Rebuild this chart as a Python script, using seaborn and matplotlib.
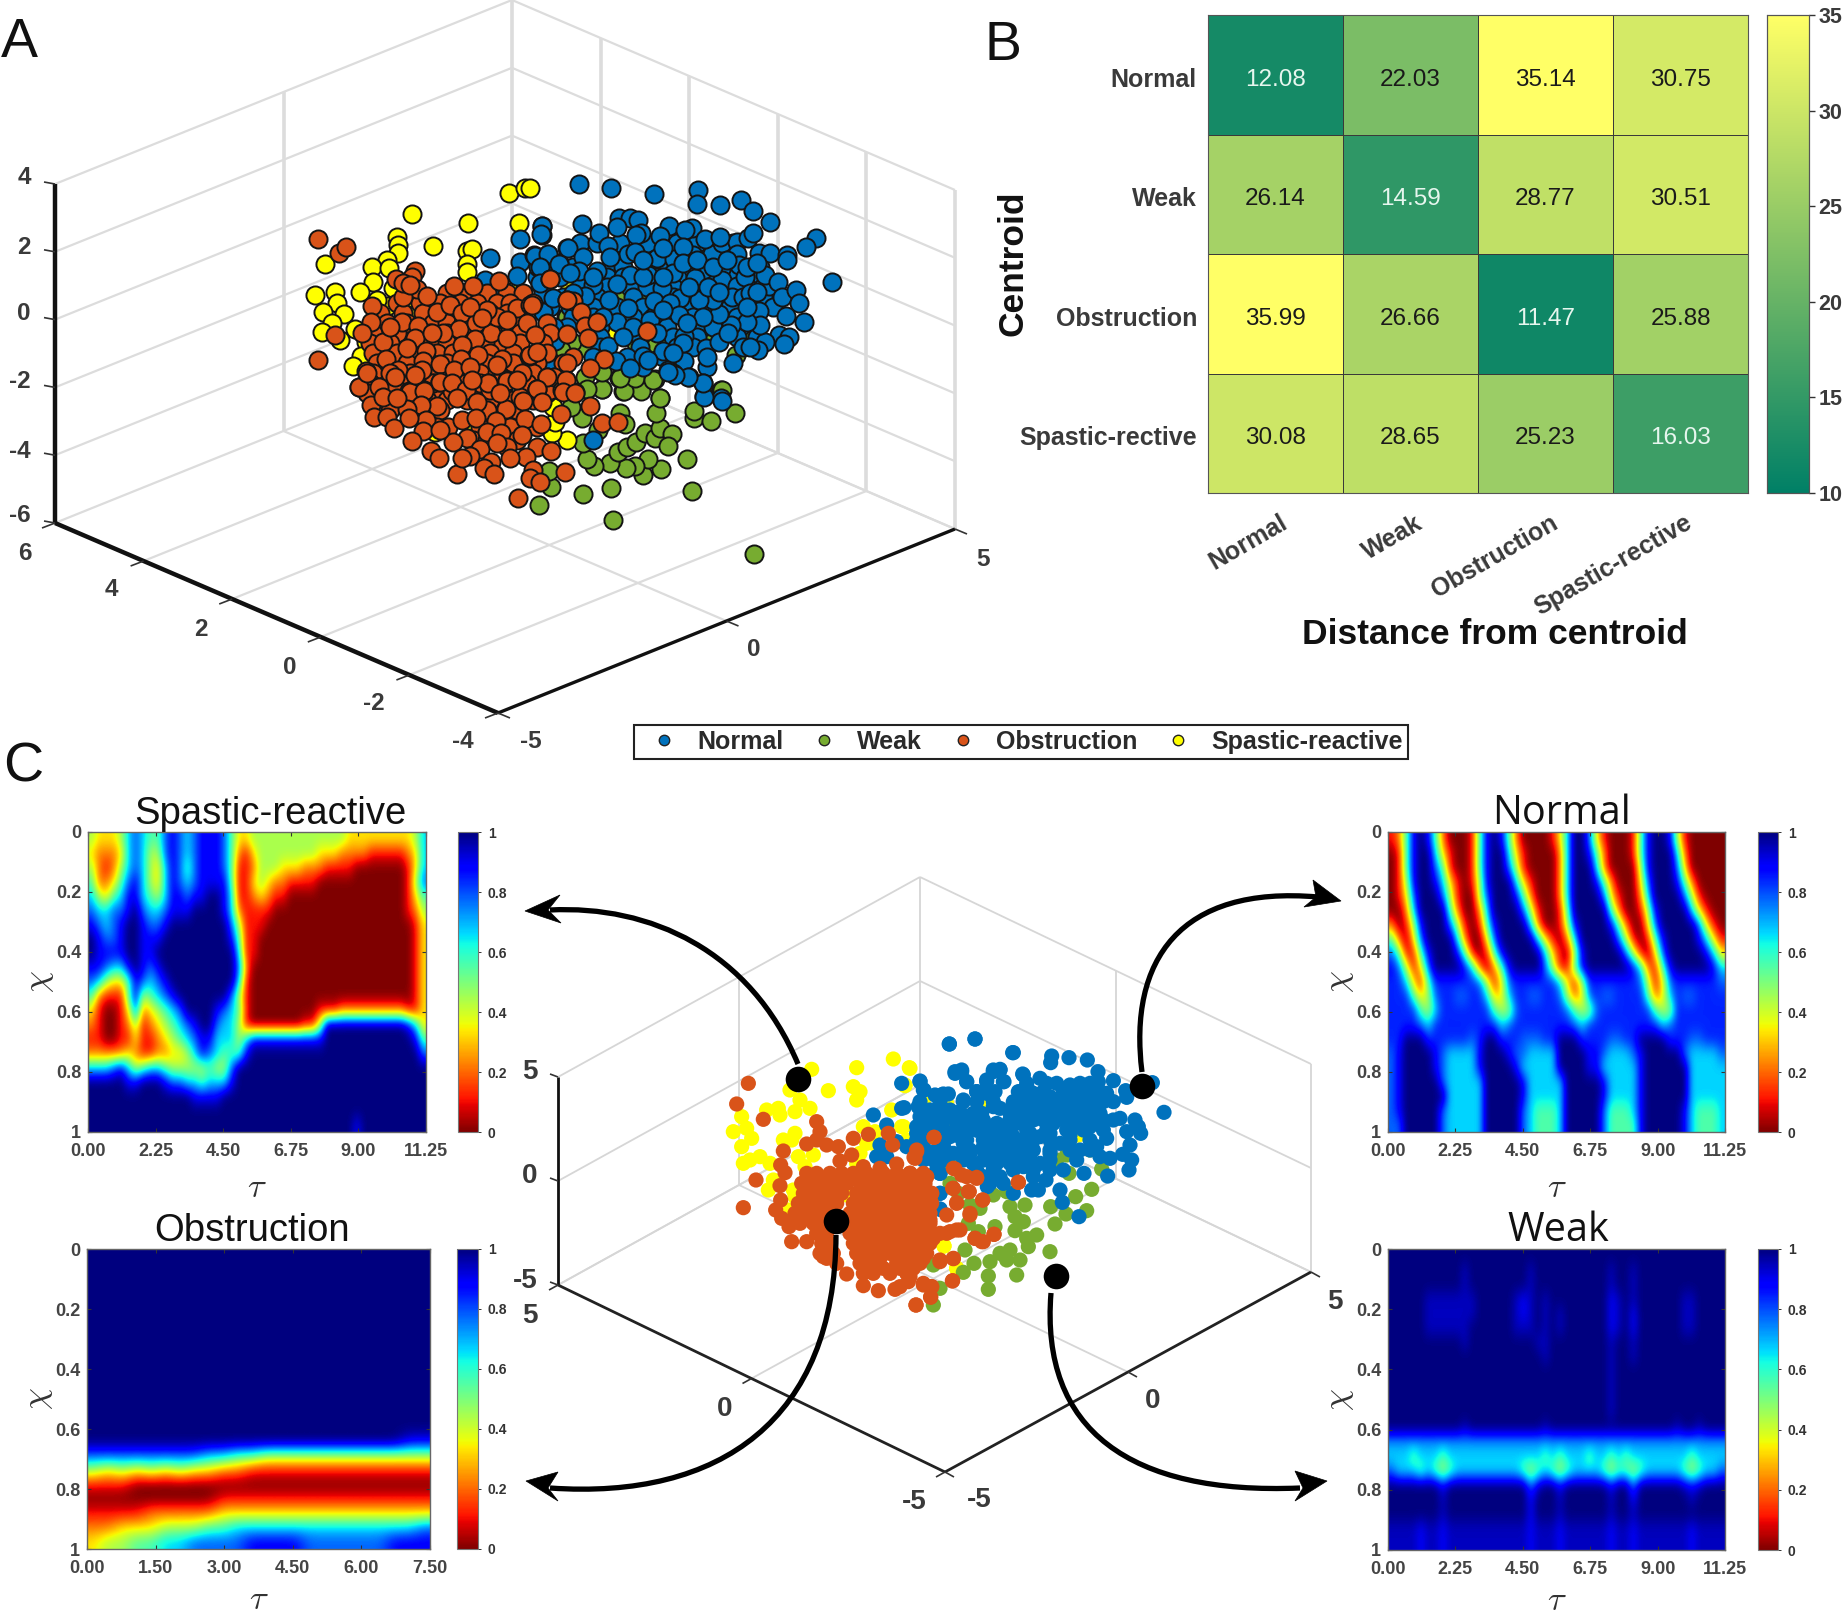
import numpy as np
import matplotlib
matplotlib.use("Agg")
import matplotlib.pyplot as plt
import matplotlib.transforms as mtrans
from matplotlib.lines import Line2D
from matplotlib.path import Path
from matplotlib.patches import PathPatch, Polygon
import seaborn as sns

# ---------- panel B ----------
CLASSES = ["Normal", "Weak", "Obstruction", "Spastic-rective"]
DIST = [[12.08, 22.03, 35.14, 30.75],
        [26.14, 14.59, 28.77, 30.51],
        [35.99, 26.66, 11.47, 25.88],
        [30.08, 28.65, 25.23, 16.03]]
LEGEND = ["Normal", "Weak", "Obstruction", "Spastic-reactive"]
BLUE, GREEN, ORANGE, YELLOW = "#0072BD", "#77AC30", "#D95319", "#FFFF00"

# ---------- panel A projected points, as read on zoomed crops ----------
A1_YELLOW = [(656,98),(706,84),(366,162),(535,188),(688,188),(321,232),(325,255),(325,280),(428,258),(530,272),(547,266),(530,312),(530,335),(104,313),(290,300),(245,320),(297,325),(250,367),(210,397),(308,385),(76,405),(135,395),(140,430),(100,457),(162,461),(127,490),(97,516),(290,437),(367,434),(520,420),(195,508),(228,547),(213,587),(188,617),(455,570),(150,540),(280,500),(470,480),(350,465),(260,420),(660,395),(560,400)]
A1_ORANGE_FILL = {400:[470,520,590,650,700],430:[320,390,450,510,560,620,660,730],460:[270,340,400,480,530,600,650,700],
                  490:[290,350,430,470,520,580,630,680,770],520:[250,320,420,470,550,610,690,780],
                  550:[240,300,420,470,540,590,640,690,760],580:[250,320,380,440,490,530,600,670,770],
                  610:[260,350,420,470,540,590,670,740],640:[250,360,430,530,570,620,730],670:[240,340,430,510,560,620,700],
                  700:[260,320,380,440,500,560,640,710,770]}
A1_ORANGE = [(85,236),(148,280),(168,261),(83,600),(375,333),(318,356),(367,350),(493,378),(548,378),(627,362),(780,356),(380,388),(412,408),(338,412),(245,438),(441,457),(481,434),(517,460),(681,444),(720,434),(335,487),(385,497),(243,487),(217,520),(136,525),(278,546),(375,533),(350,565),(407,573),(507,507),(558,489),(602,519),(650,535),(735,525),(556,536),(515,555),(565,585),(637,596),(718,587),(288,597),(400,604),(323,630),(228,634),(450,611),(513,597),(493,630),(207,681),(270,680),(316,680),(358,693),(403,691),(450,665),(485,693),(528,690),(593,670),(650,660),(742,687),(795,652),(825,660),(695,640),(770,650),(620,615),(540,620),(395,630),(340,370),(360,375),(300,500),(620,470),(590,450),(710,490),(460,520),(425,520),(650,480),(540,440),(575,475),(230,700),(300,640),(600,690),(690,710),(780,690),(820,610),(830,420)]
A1_BLUE = [(600,295),(690,238),(755,197),(755,225),(690,305),(733,285),(775,282),(745,320),(808,310),(830,265),(682,348),(750,372),(760,400),(585,360),(625,405),(570,420),(758,456),(790,500),(795,543),(782,605)]
A1_GREEN = [(828,470),(820,570)]
A2_BLUE_FILL = {250:[150,200,270,350,440,500,610],320:[60,130,240,280,390,470,540,610,690],
                350:[20,90,230,280,380,440,530,600,680],380:[40,150,230,300,350,430,510,590,650,700],
                410:[40,130,200,310,430,500,590,700],440:[60,120,190,260,340,480,530,600,660,730],
                470:[130,190,310,370,490,620],500:[110,210,360,410,520,550,630],530:[60,210,330,430,500,620,680],
                560:[210,330,440,490,640],590:[190,400],620:[340,530]}
A2_BLUE = [(146,71),(244,84),(371,102),(504,90),(500,132),(571,135),(633,121),(668,154),(719,185),(859,234),(829,262),(905,365),(36,197),(33,222),(157,193),(268,175),(300,175),(325,180),(262,200),(207,219),(333,219),(318,225),(418,197),(486,204),(465,210),(389,229),(235,257),(113,265),(15,287),(55,283),(88,312),(160,290),(293,283),(315,275),(380,293),(431,298),(490,285),(547,282),(575,250),(620,245),(655,235),(670,220),(525,238),(570,230),(460,260),(400,265),(688,280),(720,280),(770,285),(772,300),(620,283),(628,315),(572,327),(520,330),(495,355),(575,360),(620,377),(645,352),(718,377),(705,345),(745,365),(755,410),(798,390),(808,430),(688,452),(768,469),(822,485),(748,525),(778,532),(763,551),(705,545),(685,571),(690,495),(650,485),(604,495),(567,461),(605,410),(550,420),(508,420),(451,414),(397,383),(353,345),(299,345),(200,334),(147,333),(262,372),(190,375),(165,408),(238,420),(295,445),(372,422),(420,430),(447,466),(478,380),(535,380),(568,395),(640,410),(660,400),(682,395),(262,487),(38,457),(72,500),(235,558),(290,590),(338,588),(400,572),(462,527),(528,565),(530,590),(568,545),(595,520),(610,610),(463,602),(415,630),(477,652),(518,670),(522,708),(573,715),(430,640),(60,605),(258,602),(300,625),(355,600),(340,350),(340,300),(430,340),(460,310),(400,350),(240,290),(30,320),(190,350),(120,340),(100,410),(70,415),(220,470),(310,500),(360,480),(400,450),(280,530),(380,520),(500,300),(550,320),(590,300),(650,320),(680,310),(650,440),(520,470),(470,490),(460,550),(430,580),(660,560),(30,370),(130,400)]
A2_GREEN = [(620,437),(502,483),(540,527),(660,527),(617,584),(318,548),(110,472),(268,415),(345,422),(168,565),(125,545),(93,570),(216,633),(268,655),(317,654),(374,658),(278,692),(333,690),(389,714),(216,688),(170,688),(165,650),(573,690),(360,550),(410,550),(550,495),(190,440)]
A2_ORANGE = [(59,356),(130,422),(153,456),(164,497),(202,487),(110,521),(175,533),(350,512),(222,596),(128,590),(108,660),(15,525),(22,688),(72,650),(135,695),(95,690),(7,435),(110,420),(50,650),(0,585),(20,575),(110,610),(180,625)]
A2_YELLOW = [(120,382),(257,322),(240,517),(155,350),(0,83)]
A3_ORANGE_FILL = {40:[90,150,230,280,360,420,470,560,640],90:[170,260,320,380,450,520,580],
                  120:[150,230,300,440,530],170:[290,420,510,590],210:[400,440,530]}
A3_ORANGE = [(57,50),(118,52),(165,20),(210,65),(253,62),(300,35),(337,38),(378,60),(444,40),(500,32),(592,57),(678,30),(670,65),(705,68),(548,92),(607,97),(410,97),(497,117),(350,85),(290,108),(243,105),(200,118),(93,104),(103,140),(140,140),(163,175),(257,150),(207,145),(250,183),(215,213),(325,170),(365,150),(407,145),(468,152),(555,147),(603,162),(663,133),(751,107),(787,159),(835,157),(440,185),(483,190),(380,203),(340,215),(545,195),(420,237),(500,230),(592,232),(634,242),(557,262),(511,265),(272,243),(298,263),(350,313),(390,257),(365,265),(453,275),(433,295),(461,313),(580,300),(570,325),(601,337),(674,307),(534,383),(470,220),(300,180),(130,80),(170,85),(80,10),(480,70),(225,15),(395,30),(530,30)]
A3_GREEN = [(598,404),(632,350),(627,303),(728,372),(814,355),(1055,364),(820,451),(1243,551),(1040,267),(964,296),(910,314),(923,268),(885,288),(859,295),(809,279),(762,288),(742,266),(834,247),(860,230),(889,217),(914,190),(945,205),(960,175),(997,192),(985,228),(947,128),(960,85),(903,62),(852,62),(840,130),(1062,145),(1062,122),(1112,152),(1184,130),(1145,60),(786,58),(885,25),(940,30),(840,25),(740,58),(730,218),(727,143),(692,110),(775,180),(855,163),(786,5)]
A3_YELLOW = [(682,210),(636,190),(645,155),(285,185),(640,110),(405,170)]
A3_BLUE = [(760,210),(1092,80),(1145,93),(1090,40),(1045,22),(1005,15),(985,5)]

# ---------- centre panel projected points ----------
C4_ORANGE = [(115,190),(80,252),(160,298),(320,305),(330,335),(430,355),(475,343),(290,372),(320,360),(350,375),(385,380),(220,393),(425,405),(390,423),(548,375),(535,340),(672,352),(620,390),(612,412),(212,435),(225,458),(138,480),(210,497),(212,540),(100,563),(197,570),(215,595),(237,620),(245,665),(290,665),(340,710),(410,762),(460,797),(505,812),(555,808),(595,785),(618,855),(640,790),(665,800),(662,832),(728,782),(730,715),(690,720),(670,655),(690,640),(720,635),(750,630),(795,655),(815,665),(852,643),(780,580),(740,548),(818,540),(730,505),(775,515),(735,447),(770,470),(800,472),(925,487),(460,440),(560,432),(510,445),(600,460),(650,470),(665,520),(660,580),(640,620)]
C4_ORANGE_CORE = {460:[290,320,360,395,430,470,520,560,600,640],475:[300,340,380,450,500,540,580,620],490:[275,305,340,375,410,450,490,530,570,610,645],
                  505:[290,330,365,470,510,550,590,630],520:[280,320,360,395,440,480,520,560,600,640,665],535:[300,340,380,450,490,530,570,610,650],
                  550:[265,300,340,380,430,470,510,550,590,630,665],565:[280,320,360,440,480,520,560,600,640],
                  580:[255,290,330,420,460,500,540,580,620,650],595:[270,310,440,480,520,560,600,640],
                  610:[240,270,310,345,430,470,510,550,590,630,660],625:[330,440,480,520,560,600,640],
                  640:[320,350,420,460,500,540,580,620,655],655:[340,440,480,520,560,600,640],
                  670:[335,360,430,470,510,550,590,630,660],685:[345,450,490,530,570,610,640],
                  700:[330,370,440,480,540,580,620,650],715:[350,460,510,560,600,640],730:[380,450,490,560,600,630],745:[470,520,570,610],760:[460,490,540,590]}
C4_YELLOW = [(305,148),(440,143),(550,117),(598,143),(355,212),(585,197),(430,200),(450,215),(440,240),(240,210),(270,240),(300,265),(170,270),(205,265),(210,285),(255,275),(95,290),(70,335),(110,325),(125,355),(95,380),(255,340),(220,360),(245,360),(100,430),(120,420),(150,410),(180,430),(265,410),(310,405),(450,400),(470,370),(460,320),(545,270),(575,320),(495,335),(190,480),(175,510),(250,510),(255,530),(235,570),(410,525),(715,335),(820,250),(755,405),(705,245),(640,250),(702,678),(740,745),(490,370),(440,430),(285,440)]
C4_BLUE = [(718,72),(795,57),(908,98),(575,190),(630,185),(640,210),(735,155),(755,150),(770,185),(700,222),(675,225),(800,215),(850,150),(870,148),(830,185),(880,185),(940,165),(930,215),(575,265),(625,260),(490,285),(530,315),(635,285),(660,270),(720,270),(760,240),(830,220),(910,250),(955,240),(620,320),(660,310),(690,300),(740,310),(790,280),(850,260),(900,300),(950,300),(630,360),(700,370),(750,350),(800,330),(860,320),(910,350),(510,375),(560,365),(590,380),(500,410),(530,410),(650,410),(700,420),(760,390),(820,380),(870,390),(930,400),(690,460),(850,440),(900,430),(840,490),(690,520),(690,567),(880,490),(790,430),(940,440),(950,350),(670,330),(720,400),(620,340),(640,380)]
C9_BLUE_FILL = {190:[380,440,540,570],215:[390,430,490,560,600],245:[60,120,230,280,340,400,440,480,510,540,570,610],260:[420,460,500,550,590],275:[70,130,180,350,400,430,460,490,520,560,590],
                300:[80,130,190,250,330,380,430,470,500,530,560,590,610],330:[80,130,200,260,320,380,440,500,550,610],
                360:[50,130,200,250,300,400,450,510,570],390:[60,110,210,280,340,400,450,510,570],
                420:[70,190,250,320,390,450,530],450:[110,230,280,340,400,450]}
C9_BLUE = [(148,72),(225,57),(340,98),(455,108),(452,128),(507,113),(562,120),(594,155),(640,182),(677,212),(680,232),(757,188),(792,277),(60,183),(72,210),(165,160),(185,155),(200,185),(125,225),(145,222),(230,215),(280,155),(300,150),(260,180),(312,185),(285,215),(368,162),(355,215),(420,175),(470,190),(510,195),(595,185),(620,220),(640,245),(12,263),(55,260),(90,280),(190,245),(245,280),(300,265),(350,250),(400,220),(450,230),(530,225),(580,240),(430,270),(490,265),(540,270),(600,280),(660,295),(640,300),(705,300),(715,320),(722,340),(680,335),(690,375),(668,403),(695,420),(687,450),(623,468),(620,355),(630,415),(600,410),(552,460),(60,320),(110,340),(170,320),(230,330),(290,310),(350,310),(400,300),(460,310),(520,310),(570,320),(70,380),(130,380),(190,370),(250,390),(310,370),(370,370),(420,350),(480,370),(540,390),(590,380),(100,420),(220,430),(290,430),(350,420),(420,430),(490,450),(120,460),(250,470),(300,470),(400,470),(438,480),(395,510),(415,510),(262,500),(120,520),(480,510),(487,547),(537,590),(120,568),(340,520),(150,290),(210,300),(270,350),(330,340),(390,340),(450,340),(510,345),(150,350),(210,400),(270,410),(330,400),(390,400),(450,400),(160,400),(60,290),(380,260),(330,280)]
C9_GREEN = [(265,360),(335,358),(570,390),(605,447),(507,460),(470,420),(575,508),(527,530),(452,560),(498,582),(560,572),(465,612),(450,695),(375,555),(330,560),(345,590),(370,605),(345,632),(285,620),(235,635),(380,655),(410,645),(385,680),(330,690),(300,700),(360,720),(320,720),(270,725),(222,730),(195,690),(190,757),(265,768),(350,765),(265,808),(100,855),(120,805),(100,735),(145,425),(150,490),(210,555),(240,565),(205,610),(340,435),(392,445),(280,525),(320,515),(500,405),(175,520)]
C9_ORANGE = [(102,352),(50,395),(45,415),(355,487),(160,445),(185,465),(230,475),(158,505),(208,515),(248,540),(170,550),(140,585),(210,585),(170,630),(140,640),(225,655),(250,665),(282,643),(160,716),(120,725),(157,783),(70,795),(95,800),(92,830),(48,855),(30,460),(80,470),(90,530),(60,560),(90,600),(100,650),(30,500),(20,600),(15,700),(60,700),(30,770),(0,800)]
C9_YELLOW = [(30,145),(15,195),(65,245),(140,250),(250,252),(145,337),(185,405),(535,345),(132,678),(170,745),(10,320),(20,360)]

# ---------- recurrence maps: rows of chi 0..1, columns of tau; digit d = d/9; a, b, c = 0.945, 0.84, 0.72 ----------
NORMAL_ROWS = [
"1258985200 0158985200 0013699731 0001589984 100000",
"0158996310 0158996310 0002699852 0001589996 200000",
"0158997510 0158997410 0002699962 0000489997 300000",
"0148998631 0148999631 0002699985 2000379998 520000",
"0137999741 0047999852 0002699997 3100269999 741000",
"0026999952 0026999974 1001599999 5200148999 963100",
"2014899974 1015899996 2001489999 8520037999 997310",
"5203799996 2003799999 6310269999 9741015899 998631",
"7511589998 5101589999 9631048999 9974103799 999863",
"8741379999 8620258999 9741158999 9998621589 999986",
"bb6315bbbb bb74137bbb bbb6314bbb bbbb74137b bbbbb7",
"bbb5347bb7 7bb6336bb7 7bb7423 7b7 7bbbb5236b 77bbbb",
"bbbb546bbb bbbb5447bb bbbb7544 7b bbbbbb544b bbbbbb",
"bbbb76bbbb bbbbb67bbb bbbbb76bbb bbbbbbb67b bbbbbb",
"bb999bbbbb b7b99bbb77 7bb999bbbb 77bb9999bb b77bbb",
"7899998766 6689998776 6669999887 6667899999 766667",
"7899998766 6689999866 6669999886 6666899999 966666",
"7899999766 6669999986 6666999998 6666899999 966666",
"7899999966 6669999986 6666999998 6666899999 966666",
"7899999766 6669999976 5556999997 5556899999 865556",
"7799999766 6669999976 5556999997 5555899999 865556"]
SPASTIC_ROWS = [
"4333467655 7876788875 3344444444 4444433333 333346",
"3222367644 7876788875 2134444444 4333222211 111236",
"4212467643 6875788875 1124443332 2211110000 000136",
"5223578643 6876788885 1134322111 1000000000 000147",
"6435688654 6887889986 1123211000 0000000000 000135",
"7667789766 7888999986 2111100000 0000000000 000124",
"8767899877 8999999997 4111000000 0000000000 000013",
"9877899888 9999999998 5110000000 0000000000 000013",
"9888899889 9999999999 6110000000 0000000000 000013",
"8876689878 9999999999 7200000000 0000000000 000013",
"7643358767 8999999999 6100000000 0000000000 000013",
"5211158456 7899999997 4100000000 0000000000 000013",
"3100137234 5679999876 5100000000 0111222222 222113",
"2100124123 4567899766 4100000001 1499999999 999863",
"1100113112 3456788666 4688888888 8899999999 999985",
"2222232112 2334687655 5899999999 9999999999 999997",
"6667864566 5444445447 9999999999 9999999999 999999",
"9999988999 8776656668 9999999999 9999999999 999999",
"9999999999 9999888899 9999999999 9999999999 999999",
"9999999999 9999999999 9999999999 9999999999 999999",
"9999999999 9999999999 9999999999 9999998999 999999"]
WEAK_ROWS = [
"9999999999 9999999999 9999999999 9999999999 999999",
"9999999999 a99999999a 9999999999 a99a999999 999999",
"9999999999 a99999999a 9999999999 a99a999999 999999",
"99999aaaaa aa99999a8a 9a99999999 8a9a999999 aa9999",
"99999aaaaa aa99999a8a 9a9a999999 8a98999999 aa9999",
"99999aaaaa a999999aaa 9a9a999999 8a98999999 aa9999",
"9999999999 a999999999 aa99999999 a99a999999 999999",
"9999999999 9999999999 9a99999999 a99a999999 999999",
"9999999999 9999999999 9999999999 a999999999 999999",
"9999999999 9999999999 9999999999 a999999999 999999",
"9999999999 9999999999 9999999999 a999999999 999999",
"9999999999 9999999999 9999999999 a999999999 999999",
"9999999999 a999999999 9a99999999 999999999a 99a999",
"cccccccccc cccccccccc cccccccccc cccccccccc cccccc",
"6665666566 6666666666 6565666566 5656666666 656666",
"7666565456 6666666654 5654566665 4554566666 545667",
"9999999899 9999999997 a998999999 8997999999 a8a999",
"9999999a99 9999999998 999a999999 a998999999 9a9999",
"9999999a99 9999999998 999a999999 a99a999999 999999",
"aaaa8aa8aa aaaaaaaaa8 aaa8aaaaaa 8aa8aaaaaa a8aaaa",
"aaaa8aa8aa aaaaaaaaa8 aaa8aaaaaa 8aa8aaaaaa a8aaaa"]
OBSTR_ROWS = ["9"*24]*13 + [
"999999999999 999999999988",
"777777776655 444444444444",
"434343433221 111111111111",
"111000000000 000000000000",
"000000000111 111111111111",
"111122222333 333333333333",
"223334445566 666666666667",
"344556677778 888777777888"]
TAU_TICKS_LONG = [0, 2.25, 4.5, 6.75, 9, 11.25]
TAU_TICKS_SHORT = [0, 1.5, 3, 4.5, 6, 7.5]
CHI_TICKS = [0, .2, .4, .6, .8, 1]
CHI_LABELS = ["0", "0.2", "0.4", "0.6", "0.8", "1"]
CBAR_TICKS = [0, .2, .4, .6, .8, 1]
CBAR_LABELS = ["0", "0.2", "0.4", "0.6", "0.8", "1"]

W, H = 1844, 1613
sns.set_theme(style="white")
plt.rcParams["font.family"] = ["Liberation Sans", "DejaVu Sans"]
plt.rcParams["mathtext.fontset"] = "cm"
TXT = "#3a3a3a"

fig = plt.figure(figsize=(W/100, H/100), dpi=100, facecolor="white")
ov = fig.add_axes([0, 0, 1, 1], facecolor="none")
ov.set_axis_off()

def crop(pts, x0, y0):
    return [x0 + p[0]/3 for p in pts], [y0 + p[1]/3 for p in pts]

def rows(d):
    return [(x, y) for y, row in d.items() for x in row]

def merge(*groups):
    xs, ys = [], []
    for g in groups:
        xs += g[0]; ys += g[1]
    return xs, ys

def pts(xy, color, s, lw, ec, z):
    sns.scatterplot(x=xy[0], y=xy[1], ax=ov, color=color, s=s, linewidth=lw, edgecolor=ec, legend=False, zorder=z)

def seg(a, b, color="#dcdcdc", lw=1.5, z=1):
    ov.plot([a[0], b[0]], [a[1], b[1]], color=color, lw=lw, zorder=z, solid_capstyle="butt")

def lerp(a, b, t):
    return (a[0] + (b[0]-a[0])*t, a[1] + (b[1]-a[1])*t)

def up(p, h):
    return (p[0], p[1]-h)

# ---------- wire box A ----------
L, B, R, K = (55, 523), (498, 713), (955, 529), (512, 339)
HA = 339
for t in [0, .2, .4, .6, .8, 1]:
    seg(up(L, HA*t), up(K, HA*t), lw=1.6)
    seg(up(K, HA*t), up(R, HA*t), lw=1.6)
for t in [0, .5, 1]:
    p = lerp(L, K, t)
    seg(p, up(p, HA), lw=2.6)
for t in [.2, .4, .6, .8, 1]:
    p = lerp(K, R, t)
    seg(p, up(p, HA), lw=2.6)
for t in [.2, .4, .6, .8]:
    p = lerp(L, B, t)
    seg(p, (p[0]+R[0]-B[0], p[1]+R[1]-B[1]), lw=1.6)
p = lerp(L, K, .5)
seg(p, (p[0]+B[0]-L[0], p[1]+B[1]-L[1]), lw=1.6)
seg(R, K, lw=1.6)
seg(L, up(L, HA), "#111111", 3.2, 2)
seg(L, B, "#111111", 3.2, 2)
seg(B, R, "#111111", 2.4, 2)
for t in [0, .2, .4, .6, .8, 1]:
    p = up(L, HA*t)
    seg(p, (p[0]-11, p[1]-2), "#333333", 1.2, 2)
    p = lerp(L, B, t)
    seg(p, (p[0]-13, p[1]+5), "#333333", 1.2, 2)
for t in [0, .5, 1]:
    p = lerp(B, R, t)
    seg(p, (p[0]+12, p[1]+5), "#333333", 1.2, 2)

AX = [("4",24,178),("2",24,247),("0",24,313),("-2",20,382),("-4",20,451),("-6",20,516),
      ("6",25,553),("4",111,590),("2",201,629),("0",290,667),("-2",374,704),("-4",463,742),
      ("-5",531,741),("0",754,650),("5",983,559)]
for s, x, y in AX:
    ov.text(x, y, s, fontsize=17.5, fontweight="bold", color=TXT, ha="center", va="center")

a_green = merge(crop(A1_GREEN,290,160), crop(A2_GREEN,530,160), crop(A3_GREEN,340,370))
a_yellow = merge(crop(A1_YELLOW,290,160), crop(A2_YELLOW,530,160), crop(A3_YELLOW,340,370))
a_blue = merge(crop(rows(A2_BLUE_FILL),530,160), crop(A1_BLUE,290,160), crop(A2_BLUE,530,160), crop(A3_BLUE,340,370))
a_orange = merge(crop(rows(A1_ORANGE_FILL),290,160), crop(rows(A3_ORANGE_FILL),340,370), crop(A1_ORANGE,290,160), crop(A2_ORANGE,530,160), crop(A3_ORANGE,340,370))
for i, (xy, c) in enumerate([(a_green, GREEN), (a_yellow, YELLOW), (a_blue, BLUE), (a_orange, ORANGE)]):
    pts(xy, c, 170, 1.4, "#141414", 3+i)

# ---------- wire box centre ----------
cL, cB, cR, cK = (558, 1285), (945, 1472), (1311, 1272), (920, 1085)
HC = 208
GC = "#d6d6d6"
for t in [0, .5, 1]:
    seg(up(cL, HC*t), up(cK, HC*t), GC, 1.3)
    seg(up(cK, HC*t), up(cR, HC*t), GC, 1.3)
for p in [lerp(cL, cK, .5), cK, lerp(cK, cR, .5), cR]:
    seg(p, up(p, HC), GC, 1.3)
seg(lerp(cL, cK, .5), lerp(cB, cR, .5), GC, 1.3)
seg(lerp(cK, cR, .5), lerp(cL, cB, .5), GC, 1.3)
seg(cK, cL, GC, 1.3); seg(cK, cR, GC, 1.3)
seg(cL, up(cL, HC), "#111111", 2.0, 2)
seg(cL, cB, "#222222", 2.0, 2)
seg(cB, cR, "#222222", 2.0, 2)
for t in [0, .5, 1]:
    p = up(cL, HC*t)
    seg(p, (p[0]-8, p[1]-3), "#333333", 1.2, 2)
    p = lerp(cL, cB, t)
    seg(p, (p[0]-9, p[1]+5), "#333333", 1.2, 2)
    p = lerp(cB, cR, t)
    seg(p, (p[0]+9, p[1]+5), "#333333", 1.2, 2)
CX = [("5",530,1072),("0",530,1176),("-5",525,1281),("5",530,1316),("0",725,1409),("-5",914,1502),
      ("-5",979,1500),("0",1153,1401),("5",1335,1302)]
for s, x, y in CX:
    ov.text(x, y, s, fontsize=20, fontweight="bold", color=TXT, ha="center", va="center")

c_green = crop(C9_GREEN, 900, 1020)
c_yellow = merge(crop(C4_YELLOW,710,1020), crop(C9_YELLOW,900,1020))
c_blue = merge(crop(C4_BLUE,710,1020), crop(C9_BLUE,900,1020), crop(rows(C9_BLUE_FILL),900,1020))
c_orange = merge(crop(C4_ORANGE,710,1020), crop(rows(C4_ORANGE_CORE),710,1020), crop(C9_ORANGE,900,1020))
for i, (xy, c) in enumerate([(c_yellow, YELLOW), (c_green, GREEN), (c_blue, BLUE), (c_orange, ORANGE)]):
    pts(xy, c, 120, 0, "none", 3+i)

# ---------- arrows ----------
ARROWS = [((798,1064),(750,950),(650,905),(550,910),[(525,911),(560,895),(548,910),(561,923)]),
          ((1142,1072),(1128,960),(1180,885),(1318,897),[(1341,901),(1313,880),(1316,897),(1304,907)]),
          ((836,1235),(835,1420),(720,1500),(550,1488),[(526,1481),(558,1472),(548,1488),(558,1501)]),
          ((1051,1293),(1040,1430),(1130,1495),(1300,1488),[(1327,1481),(1295,1471),(1303,1488),(1295,1501)])]
for p0, p1, p2, p3, head in ARROWS:
    ov.add_patch(PathPatch(Path([p0, p1, p2, p3], [Path.MOVETO, Path.CURVE4, Path.CURVE4, Path.CURVE4]),
                           fc="none", ec="black", lw=3.8, zorder=9))
    ov.add_patch(Polygon(head, closed=True, fc="black", ec="black", lw=.5, zorder=9))
DOTS_X, DOTS_Y = [798, 1142, 836, 1056], [1079, 1086, 1221, 1276]
sns.scatterplot(x=DOTS_X, y=DOTS_Y, ax=ov, color="black", s=340, linewidth=0, legend=False, zorder=10)

# ---------- letters ----------
for s, x, y in [("A", 1, 57), ("B", 984, 60), ("C", 3, 781)]:
    ov.text(x, y, s, fontsize=40, color="#111111", ha="left", va="baseline")

# ---------- legend ----------
hs = [Line2D([], [], ls="", marker="o", ms=7.5, mfc=c, mec="#222222", mew=1) for c in (BLUE, GREEN, ORANGE, YELLOW)]
leg = ov.legend(hs, LEGEND, ncol=4, loc="upper left", bbox_to_anchor=(634/W, 1-725/H), bbox_transform=fig.transFigure,
                borderaxespad=0, frameon=True, fancybox=False, edgecolor="#222222", framealpha=1,
                prop={"weight": "bold", "size": 18}, handlelength=2, handletextpad=.32,
                columnspacing=.64, borderpad=.2)
leg.get_frame().set_linewidth(1.5)
for t in leg.get_texts():
    t.set_color("#2a2a2a")

ov.set_xlim(0, W); ov.set_ylim(H, 0)

# ---------- panel B ----------
def box(x0, y0, x1, y1):
    return fig.add_axes([x0/W, 1-y1/H, (x1-x0)/W, (y1-y0)/H])

axb = box(1208, 15, 1748, 493)
cb = box(1767, 15, 1809, 493)
sns.heatmap(np.array(DIST), ax=axb, cbar_ax=cb, cmap="summer", vmin=10, vmax=35, annot=True, fmt=".2f",
            annot_kws={"fontsize": 17.5}, linewidths=.6, linecolor="#3a3a3a",
            xticklabels=CLASSES, yticklabels=CLASSES, square=False)
for t, v in zip(axb.texts, np.array(DIST).ravel()):
    t.set_color("#e6f6ee" if v < 20 else "#1a1a1a")
    t.set_y(t.get_position()[1] + .04)
for s in axb.spines.values():
    s.set_visible(True); s.set_color("#555555"); s.set_linewidth(.8)
axb.tick_params(axis="both", length=0)
axb.tick_params(axis="y", pad=8)
off = mtrans.ScaledTranslation(4/100, -13/100, fig.dpi_scale_trans)
ydown = mtrans.ScaledTranslation(0, -5/100, fig.dpi_scale_trans)
for t in axb.get_xticklabels():
    t.set_rotation(30); t.set_ha("right"); t.set_rotation_mode("anchor")
    t.set_fontsize(18); t.set_fontweight("bold"); t.set_color(TXT)
    t.set_transform(t.get_transform() + off)
for t in axb.get_yticklabels():
    t.set_rotation(0); t.set_fontsize(18); t.set_fontweight("bold"); t.set_color(TXT)
    t.set_transform(t.get_transform() + ydown)
axb.set_xlabel("Distance from centroid", fontsize=25.5, fontweight="bold", color="#111111", va="center")
axb.set_ylabel("Centroid", fontsize=25.5, fontweight="bold", color="#111111", va="center")
axb.xaxis.set_label_coords(.531, -.297)
axb.yaxis.set_label_coords(-.362, .48)
cb.set_yticks([10, 15, 20, 25, 30, 35])
cb.tick_params(axis="y", length=4, width=1, color="#333333", labelsize=15.5, pad=3, right=True)
for t in cb.get_yticklabels():
    t.set_fontweight("bold"); t.set_color(TXT)
for s in cb.spines.values():
    s.set_visible(True); s.set_color("#555555"); s.set_linewidth(.8)

# ---------- recurrence maps ----------
def grid(rows_):
    vals = {c: int(c)/9 for c in "0123456789"}
    vals.update({"a": .945, "b": .84, "c": .72})
    return np.array([[vals[c] for c in r.replace(" ", "")] for r in rows_])

def rmap(rows_, pos, cpos, tau_ticks, title, tfont, tsize, tx, tpad, tau_y):
    ax = box(*pos)
    cax = box(*cpos)
    im = ax.imshow(grid(rows_), cmap="jet_r", vmin=0, vmax=1, aspect="auto", interpolation="bicubic",
                   extent=(0, tau_ticks[-1], 1, 0))
    ax.set_xticks(tau_ticks); ax.set_xticklabels([f"{v:.2f}" for v in tau_ticks])
    ax.set_yticks(CHI_TICKS); ax.set_yticklabels(CHI_LABELS)
    ax.tick_params(axis="both", direction="in", length=3, width=.8, color="#333333", labelsize=13,
                   labelcolor="#444444", top=True, right=True, bottom=True, left=True)
    ax.tick_params(axis="x", pad=8)
    ax.tick_params(axis="y", pad=5)
    for t in ax.get_xticklabels() + ax.get_yticklabels():
        t.set_fontweight("bold")
    for s in ax.spines.values():
        s.set_visible(True); s.set_color("#666666"); s.set_linewidth(1)
    ax.grid(False)
    ax.set_xlabel(r"$\tau$", fontsize=25, color="#333333", va="center")
    ax.set_ylabel(r"$\chi$", fontsize=25, color="#333333", va="center")
    w, h = pos[2]-pos[0], pos[3]-pos[1]
    ax.xaxis.set_label_coords(.5, tau_y)
    ax.yaxis.set_label_coords(-49/w, .5)
    ax.set_title(title, fontsize=tsize, family=tfont, color="#111111", x=(tx-pos[0])/w, pad=tpad)
    cbar = fig.colorbar(im, cax=cax)
    cbar.set_ticks(CBAR_TICKS); cbar.set_ticklabels(CBAR_LABELS)
    cax.tick_params(axis="y", length=2, width=.7, labelsize=10, pad=5, labelcolor="#333333", color="#333333", right=True)
    for t in cax.get_yticklabels():
        t.set_fontweight("bold")
    cbar.outline.set_edgecolor("#777777"); cbar.outline.set_linewidth(.8)
    return ax

rmap(SPASTIC_ROWS, (88, 832, 426, 1132), (458, 832, 478, 1132), TAU_TICKS_LONG, "Spastic-reactive", "Liberation Sans", 27.5, 270, 6, -.185)
rmap(NORMAL_ROWS, (1388, 832, 1725, 1132), (1758, 832, 1778, 1132), TAU_TICKS_LONG, "Normal", "Open Sans", 28.5, 1562, 6, -.185)
rmap(OBSTR_ROWS, (87, 1249, 430, 1549), (457, 1249, 478, 1549), TAU_TICKS_SHORT, "Obstruction", "Liberation Sans", 27.5, 252, 6, -.168)
rmap(WEAK_ROWS, (1388, 1249, 1725, 1550), (1758, 1249, 1778, 1550), TAU_TICKS_LONG, "Weak", "Open Sans", 28.5, 1558, 6, -.168)

fig.savefig("out.png", dpi=100, facecolor="white")
